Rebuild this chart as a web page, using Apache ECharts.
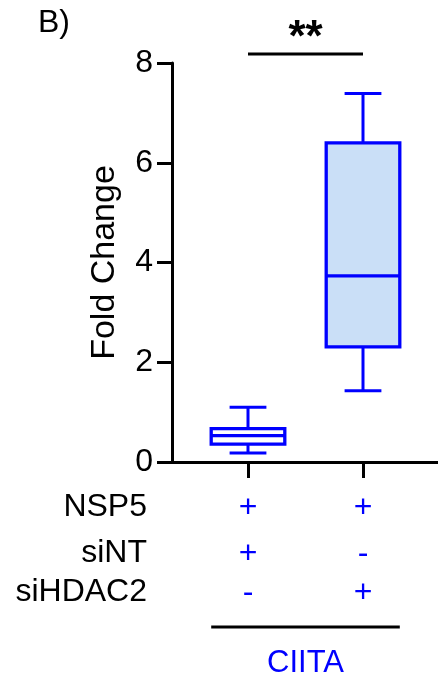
<!DOCTYPE html>
<html>
<head>
<meta charset="utf-8">
<script src="https://cdn.jsdelivr.net/npm/echarts@6/dist/echarts.min.js"></script>
<style>
html, body { margin: 0; padding: 0; background: #fff; }
#main { width: 438px; height: 678px; }
</style>
</head>
<body>
<div id="main"></div>
<script>
// groups along x
var groups = ['NSP5+siNT', 'NSP5+siHDAC2'];
// box stats, one value per group
var whiskerLow = [0.18, 1.43];
var q1 = [0.36, 2.31];
var median = [0.53, 3.73];
var q3 = [0.67, 6.40];
var whiskerHigh = [1.10, 7.39];
// condition table under the axis
var rowNames = ['NSP5', 'siNT', 'siHDAC2'];
var nsp5 = ['+', '+'];
var siNT = ['+', '-'];
var siHDAC2 = ['-', '+'];
var rows = [nsp5, siNT, siHDAC2];
// y axis
var yMin = 0;
var yMax = 8;
var yStep = 2;
// significance
var sigText = '**';
var sigLevel = 8.18;
var targetName = 'CIITA';

var FONT = 'Liberation Sans, Arial, Helvetica, sans-serif';
var BLUE = '#0000ff';
var boxFill = ['#ffffff', '#cadff7'];
var rowOffset = [46, 92, 131];   // px below the x axis for each table row

var myChart = echarts.init(document.getElementById('main'));

function txt(x, y, text, opt) {
  return {
    type: 'text',
    x: x,
    y: y,
    style: Object.assign({
      text: text,
      fill: '#000',
      fontSize: 32,
      fontFamily: FONT,
      align: 'center',
      verticalAlign: 'middle',
      textAlign: 'center',
      textVerticalAlign: 'middle'
    }, opt || {})
  };
}

function line(x1, y1, x2, y2, color) {
  return {
    type: 'line',
    shape: { x1: x1, y1: y1, x2: x2, y2: y2 },
    style: { stroke: color, lineWidth: 3 }
  };
}

// box, whiskers and the +/- marks of one group
function renderBox(params, api) {
  var i = api.value(0);
  var band = api.size([1, 0])[0];
  var half = band * 0.32;
  var cap = band * 0.16;
  var x = api.coord([i, 0])[0];
  var y0 = api.coord([i, 0])[1];
  var yMinW = api.coord([i, api.value(1)])[1];
  var yQ1 = api.coord([i, api.value(2)])[1];
  var yMed = api.coord([i, api.value(3)])[1];
  var yQ3 = api.coord([i, api.value(4)])[1];
  var yMaxW = api.coord([i, api.value(5)])[1];
  var children = [
    line(x, yQ3, x, yMaxW, BLUE),
    line(x - cap, yMaxW, x + cap, yMaxW, BLUE),
    line(x, yQ1, x, yMinW, BLUE),
    line(x - cap, yMinW, x + cap, yMinW, BLUE),
    {
      type: 'rect',
      shape: { x: x - half, y: yQ3, width: half * 2, height: yQ1 - yQ3 },
      style: { fill: boxFill[i], stroke: BLUE, lineWidth: 3.3 }
    },
    {
      type: 'line',
      shape: { x1: x - half, y1: yMed, x2: x + half, y2: yMed },
      style: { stroke: BLUE, lineWidth: 3.3 }
    }
  ];
  rows.forEach(function (r, k) {
    children.push(txt(x, y0 + rowOffset[k], r[i], { fill: BLUE }));
  });
  return { type: 'group', children: children };
}

// significance bar and the target label under the table
function renderNotes(params, api) {
  var a = api.value(0);
  var b = api.value(2);
  var band = api.size([1, 0])[0];
  var half = band * 0.32;
  var pa = api.coord([a, api.value(1)]);
  var pb = api.coord([b, api.value(1)]);
  var y0 = api.coord([a, 0])[1];
  return {
    type: 'group',
    children: [
      line(pa[0], pa[1], pb[0], pb[1], '#000'),
      txt((pa[0] + pb[0]) / 2, pa[1] - 15, sigText, { fontSize: 44, fontWeight: 'bold' }),
      line(pa[0] - half, y0 + 165, pb[0] + half, y0 + 165, '#000'),
      txt((pa[0] + pb[0]) / 2, y0 + 201, targetName, { fill: BLUE, fontSize: 31 })
    ]
  };
}

var boxData = groups.map(function (g, i) {
  return [i, whiskerLow[i], q1[i], median[i], q3[i], whiskerHigh[i]];
});

var graphics = [txt(38, 23, 'B)', { align: 'left', textAlign: 'left' })];
rowNames.forEach(function (n, k) {
  graphics.push(txt(147, 462 + rowOffset[k] - 1, n, { align: 'right', textAlign: 'right' }));
});

myChart.setOption({
  backgroundColor: '#fff',
  animation: false,
  graphic: graphics,
  grid: [
    { left: 172, right: 0, top: 63, bottom: 216 },
    { left: 190.5, width: 230, top: 63, bottom: 216 }
  ],
  xAxis: [
    {
      gridIndex: 0,
      type: 'value',
      min: 0,
      max: 1,
      axisLine: { show: true, lineStyle: { color: '#000', width: 3 } },
      axisTick: { show: false },
      axisLabel: { show: false },
      splitLine: { show: false }
    },
    {
      gridIndex: 1,
      type: 'category',
      data: groups,
      axisLine: { show: false },
      axisTick: { show: true, alignWithLabel: true, length: 16, lineStyle: { color: '#000', width: 3 } },
      axisLabel: { show: false },
      splitLine: { show: false }
    }
  ],
  yAxis: [
    {
      gridIndex: 0,
      type: 'value',
      min: yMin,
      max: yMax,
      interval: yStep,
      name: 'Fold Change',
      nameLocation: 'middle',
      nameGap: 50,
      nameTextStyle: { color: '#000', fontSize: 34, fontFamily: FONT },
      axisLine: { show: true, lineStyle: { color: '#000', width: 3 } },
      axisTick: { show: true, length: 15, lineStyle: { color: '#000', width: 3 } },
      axisLabel: { color: '#000', fontSize: 32, fontFamily: FONT, margin: 19 },
      splitLine: { show: false }
    },
    {
      gridIndex: 1,
      type: 'value',
      min: yMin,
      max: yMax,
      show: false,
      splitLine: { show: false }
    }
  ],
  series: [
    {
      type: 'custom',
      xAxisIndex: 1,
      yAxisIndex: 1,
      clip: false,
      renderItem: renderBox,
      data: boxData
    },
    {
      type: 'custom',
      xAxisIndex: 1,
      yAxisIndex: 1,
      clip: false,
      renderItem: renderNotes,
      data: [[0, sigLevel, 1]]
    }
  ]
});
</script>
</body>
</html>
